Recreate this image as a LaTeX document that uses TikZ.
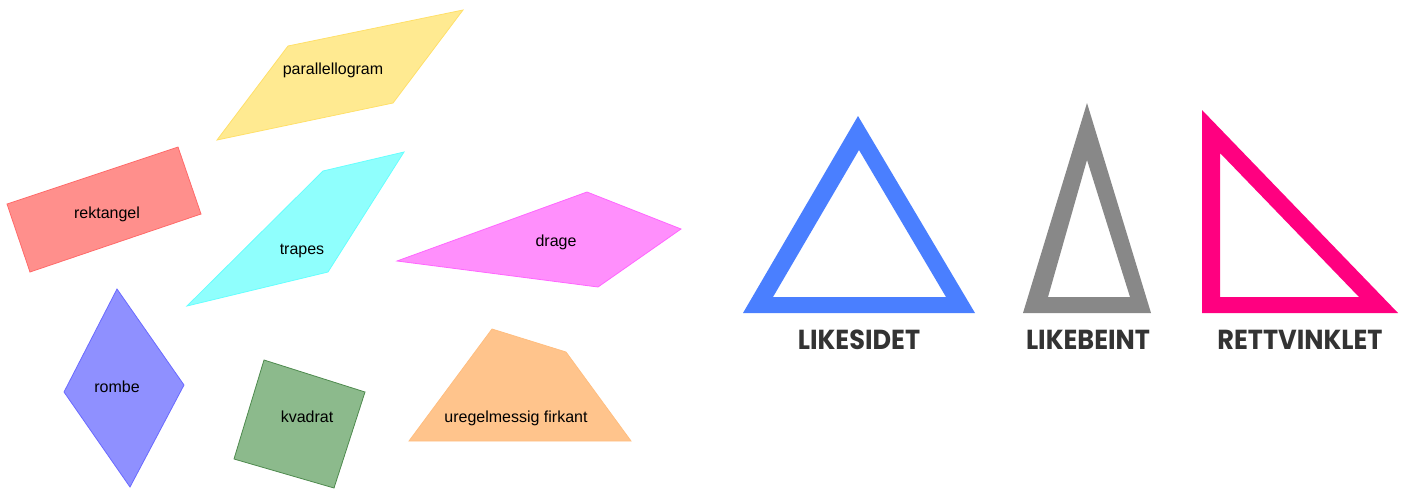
\documentclass[tikz,border=0pt]{standalone}
\usepackage{fontspec}
\setmainfont{Liberation Sans}
\newfontfamily\popfont{Poppins}
\definecolor{parF}{HTML}{FFEA91}\definecolor{parD}{HTML}{FFE06A}
\definecolor{rekF}{HTML}{FF8F8C}\definecolor{rekD}{HTML}{FF6A6A}
\definecolor{traF}{HTML}{8FFFFD}\definecolor{traD}{HTML}{66FFFF}
\definecolor{draF}{HTML}{FF8FFC}\definecolor{draD}{HTML}{FF66FF}
\definecolor{romF}{HTML}{8F90FF}\definecolor{romD}{HTML}{6A6AFF}
\definecolor{kvaF}{HTML}{8CBA8C}\definecolor{kvaD}{HTML}{4E8A4E}
\definecolor{ureF}{HTML}{FFC48C}\definecolor{ureD}{HTML}{FFBE80}
\definecolor{triB}{HTML}{4A7FFF}
\definecolor{triG}{HTML}{888888}
\definecolor{triP}{HTML}{FF0080}
\definecolor{labC}{HTML}{333333}
\newcommand{\tlab}[1]{\scalebox{0.93}[1]{#1}}
\tikzset{
  quad/.style={line width=0.8pt, line join=miter},
  qlabel/.style={font=\fontsize{16}{19}\selectfont, text=black, inner sep=0pt},
  tlabel/.style={font=\popfont\bfseries\fontsize{27.5}{32}\selectfont, text=labC, inner sep=0pt},
  tri/.style={even odd rule}
}
\begin{document}
\begin{tikzpicture}[x=1pt,y=-1pt]
\useasboundingbox (0,0) rectangle (1407,488);
% quadrilaterals
\filldraw[quad, fill=parF, draw=parD] (288,46) -- (463,10) -- (393,103) -- (217,140) -- cycle;
\node[qlabel] (par) at (333,70) {parallellogram};
\filldraw[quad, fill=rekF, draw=rekD] (7,204) -- (178,147) -- (201,214) -- (30,272) -- cycle;
\node[qlabel] (rek) at (107,214) {rektangel};
\filldraw[quad, fill=traF, draw=traD] (323,171) -- (404,152) -- (328,272) -- (187,306) -- cycle;
\node[qlabel] (tra) at (302,251) {trapes};
\filldraw[quad, fill=draF, draw=draD] (397,261) -- (587,192) -- (681,229) -- (598,287) -- cycle;
\node[qlabel] (dra) at (556,242) {drage};
\filldraw[quad, fill=romF, draw=romD] (117,289) -- (184,385) -- (130,487) -- (64,392) -- cycle;
\node[qlabel] (rom) at (117,387) {rombe};
\filldraw[quad, fill=kvaF, draw=kvaD] (264,360) -- (365,392) -- (334,488) -- (234,459) -- cycle;
\node[qlabel] (kva) at (307,417) {kvadrat};
\filldraw[quad, fill=ureF, draw=ureD] (492,329) -- (566,352) -- (631,441) -- (409,441) -- cycle;
\node[qlabel] (ure) at (516,418) {uregelmessig firkant};
% triangles
\fill[tri, triB] (858,116) -- (975,313) -- (743,313) -- cycle
                 (859,150) -- (946,297) -- (773,297) -- cycle;
\fill[tri, triG] (1087,103) -- (1151,313) -- (1023,313) -- cycle
                 (1087,160) -- (1130,297) -- (1048,297) -- cycle;
\fill[tri, triP] (1202,110) -- (1398,313) -- (1202,313) -- cycle
                 (1220,153) -- (1359,297) -- (1220,297) -- cycle;
\node[tlabel] (lik) at (859,340) {\tlab{LIKESIDET}};
\node[tlabel] (lib) at (1088,340) {\tlab{LIKEBEINT}};
\node[tlabel] (ret) at (1300,340) {\tlab{RETTVINKLET}};
\end{tikzpicture}
\end{document}
